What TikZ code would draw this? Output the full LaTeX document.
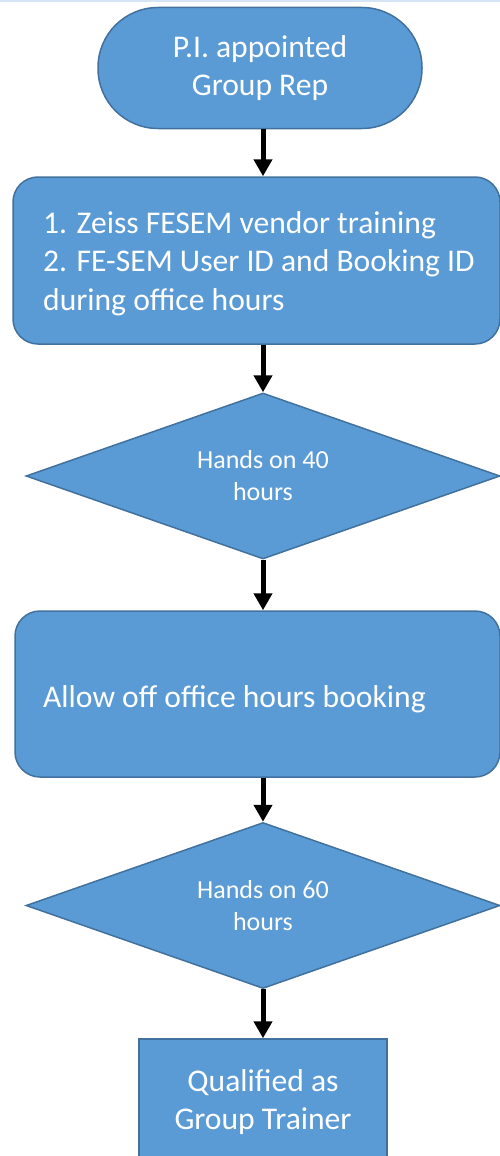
\documentclass[tikz,border=0pt]{standalone}
\usepackage{fontspec}
\setmainfont{Carlito}
\usetikzlibrary{shapes.geometric, arrows.meta}
\definecolor{fillblue}{HTML}{5B9BD5}
\definecolor{edgeblue}{HTML}{41719C}
\definecolor{topline}{HTML}{D5E5F5}
\begin{document}
\begin{tikzpicture}[x=1pt,y=-1pt,
  shapebox/.style={draw=edgeblue, fill=fillblue, line width=1.5pt, text=white},
  bigtext/.style={font=\fontsize{31.6}{38.5}\selectfont},
  smalltext/.style={font=\fontsize{26}{32}\selectfont},
  decision/.style={shapebox, diamond, aspect=2.86, minimum width=474pt, minimum height=166pt, inner sep=0pt, smalltext, align=center},
  arr/.style={line width=5pt, black, -{Triangle[width=18pt,length=17pt]}}]
\useasboundingbox (0,0) rectangle (500,1156);
\clip (0,0) rectangle (500,1156);
\fill[topline] (0,0) rectangle (500,2);
\coordinate (ax) at (263,0);
% shapes
\node[shapebox, bigtext, rectangle, rounded corners=60pt, minimum width=324pt, minimum height=121pt, align=center, inner sep=0pt] (start) at (260,68) {P.I. appointed\\Group Rep};
\node[shapebox, rectangle, rounded corners=25pt, minimum width=487pt, minimum height=167pt] (train) at (256.5,260.5) {};
\node[bigtext, text=white, anchor=west, align=left, inner sep=0pt] (traint) at (43,263.5) {1. Zeiss FESEM vendor training\\2. FE-SEM User ID and Booking ID\\during office hours};
\node[decision] (d40) at (263,476) {Hands on 40\\hours};
\node[shapebox, rectangle, rounded corners=25pt, minimum width=485pt, minimum height=166pt] (off) at (257.5,694) {};
\node[bigtext, text=white, anchor=base west, inner sep=0pt] (offt) at (43,707) {Allow off office hours booking};
\node[decision] (d60) at (263,905.5) {Hands on 60\\hours};
\node[shapebox, rectangle, minimum width=248pt, minimum height=126pt, inner sep=0pt, align=center, bigtext] (qual) at (263,1102) {Qualified as\\Group Trainer};
% connectors
\draw[arr] (start.south -| ax) -- (train.north -| ax);
\draw[arr] (train.south -| ax) -- (d40.north);
\draw[arr] (d40.south) -- (off.north -| ax);
\draw[arr] (off.south -| ax) -- (d60.north);
\draw[arr] (d60.south) -- (qual.north);
\end{tikzpicture}
\end{document}
